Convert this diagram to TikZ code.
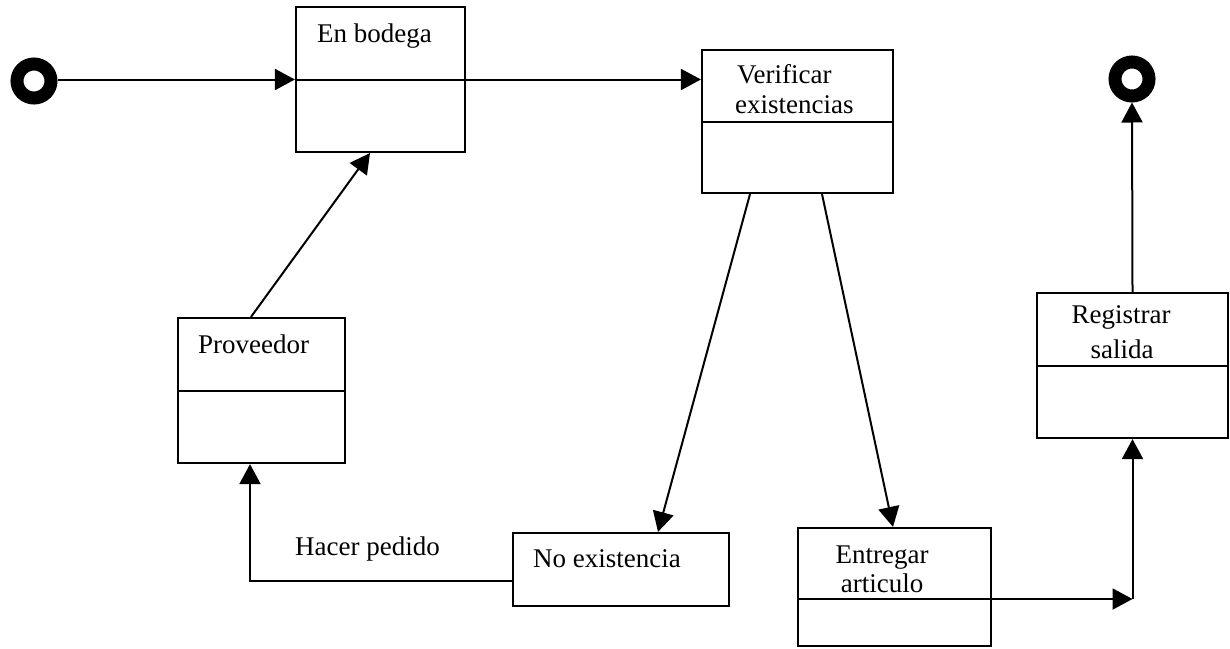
\documentclass[tikz,border=0pt]{standalone}
\usepackage{fontspec}
\setmainfont{Liberation Serif}
\usetikzlibrary{arrows.meta}

\tikzset{
  state/.style={draw, line width=2.2pt, rectangle, inner sep=0pt},
  pseudo/.style={draw, circle, line width=13pt, minimum size=34pt, inner sep=0pt},
  flow/.style={line width=2pt, -{Triangle[length=20pt,width=21pt]}},
  plain/.style={line width=2pt},
  lbl/.style={inner sep=0pt, font=\fontsize{27}{30}\selectfont}
}

\begin{document}
\begin{tikzpicture}[x=1pt,y=-1pt]
  \useasboundingbox (0,0) rectangle (1230,648);

  % initial and final pseudo-states
  \node[pseudo] (ini) at (34,81) {};
  \node[pseudo] (fin) at (1132,79) {};

  % state boxes
  \node[state, minimum width=169pt, minimum height=145pt] (bod) at (380.5,79.5) {};
  \node[state, minimum width=191pt, minimum height=143pt] (ver) at (797.5,121.5) {};
  \node[state, minimum width=167pt, minimum height=145pt] (prov) at (261.5,390.5) {};
  \node[state, minimum width=216pt, minimum height=73pt] (noex) at (621,569.5) {};
  \node[state, minimum width=193pt, minimum height=118pt] (ent) at (894.5,587) {};
  \node[state, minimum width=191pt, minimum height=145pt] (reg) at (1132.5,365.5) {};

  % compartment dividers
  \draw[plain] (bod.west) -- (bod.east);
  \draw[plain] (ver.west) -- (ver.east);
  \draw[plain] (prov.west) -- (prov.east);
  \draw[plain] (reg.west) -- (reg.east);
  \draw[plain] ([yshift=-12pt]ent.west) -- ([yshift=-12pt]ent.east);

  % state names
  \node[lbl, anchor=base west] (tBod) at (317,42) {En bodega};
  \node[lbl, anchor=base west] (tVer1) at (737,83) {Verificar};
  \node[lbl, anchor=base west] (tVer2) at (735,113) {existencias};
  \node[lbl, anchor=base west] (tProv) at (198,353) {Proveedor};
  \node[lbl, anchor=base west] (tNoex) at (533,567) {No existencia};
  \node[lbl, anchor=base] (tReg1) at (1121,323) {Registrar};
  \node[lbl, anchor=base] (tReg2) at (1122,358) {salida};
  \node[lbl, anchor=base] (tEnt1) at (882,563) {Entregar};
  \node[lbl, anchor=base] (tEnt2) at (882,592) {articulo};
  \node[lbl, anchor=base west] (tPed) at (295,555) {Hacer pedido};

  % transitions
  \draw[flow] (ini.east |- bod.west) -- (bod.west);
  \draw[flow] (bod.east) -- (bod.east -| ver.west);
  \draw[flow] ([xshift=-47.5pt]ver.south) -- ([xshift=37pt]noex.north);
  \draw[flow] ([xshift=24.5pt]ver.south) -- ([xshift=-1.5pt]ent.north);
  \draw[flow] ([yshift=-11.5pt]noex.west) -| ([xshift=-11.5pt]prov.south);
  \draw[flow] ([xshift=-10.5pt]prov.north) -- ([xshift=-10.5pt]bod.south);
  \coordinate (join) at (reg.south |- 0,599);
  \draw[flow] ([yshift=-12pt]ent.east) -- (join);
  \draw[flow] (join) -- (reg.south);
  \draw[flow] (reg.north) -- (fin.south);
\end{tikzpicture}
\end{document}
